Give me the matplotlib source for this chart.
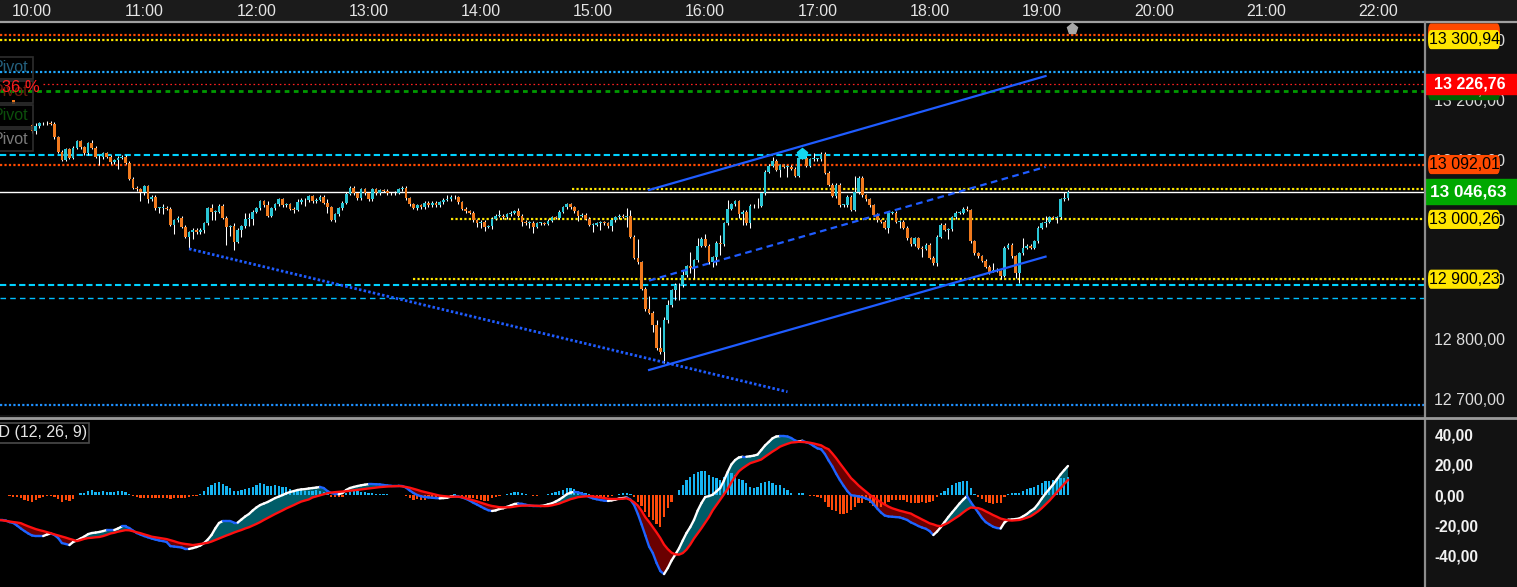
import numpy as np
import matplotlib
matplotlib.use("Agg")
import matplotlib.pyplot as plt
from matplotlib.collections import LineCollection
from matplotlib.patches import Rectangle, FancyBboxPatch
from matplotlib.lines import Line2D
from matplotlib.transforms import blended_transform_factory

plt.rcParams['font.family'] = ['Liberation Sans', 'DejaVu Sans']

# ------------------------------------------------------------------ data
session_start = "10:00"
bar_minutes = 2
time_labels = ["10:00", "11:00", "12:00", "13:00", "14:00", "15:00", "16:00",
               "17:00", "18:00", "19:00", "20:00", "21:00", "22:00"]
price_ticks = [12700, 12800, 12900, 13000, 13100, 13200, 13300]
macd_ticks = [40, 20, 0, -20, -40]

first_open = 13158
closes = [
    13148, 13156, 13161, 13161, 13162, 13160, 13138, 13113, 13100, 13118,
    13103, 13120, 13131, 13121, 13111, 13128, 13120, 13105, 13104, 13111,
    13105, 13096, 13099, 13103, 13105, 13095, 13068, 13053, 13051, 13046,
    13056, 13034, 13038, 13019, 13019, 13020, 13018, 12991, 12999, 13003,
    12988, 12971, 12979, 12983, 12979, 12983, 12994, 13019, 13013, 13013,
    13023, 13003, 12988, 12989, 12963, 12983, 12989, 13001, 13001, 13013,
    13019, 13031, 13024, 13006, 13019, 13026, 13034, 13024, 13026, 13018,
    13016, 13029, 13033, 13032, 13039, 13031, 13033, 13038, 13028, 13021,
    12999, 13009, 13019, 13028, 13043, 13053, 13044, 13036, 13051, 13044,
    13034, 13051, 13044, 13049, 13048, 13044, 13044, 13045, 13051, 13053,
    13036, 13026, 13019, 13024, 13021, 13028, 13024, 13028, 13024, 13029,
    13033, 13034, 13038, 13037, 13029, 13018, 13014, 13011, 12999, 12994,
    12996, 12988, 12989, 13001, 13006, 13006, 13004, 13009, 13011, 13014,
    13006, 12996, 12994, 12995, 12988, 12994, 12994, 12993, 12998, 13004,
    13003, 13013, 13021, 13026, 13021, 13014, 13006, 13008, 13001, 12991,
    12991, 12994, 12995, 12994, 12989, 12999, 13004, 13006, 13005, 13006,
    12971, 12936, 12929, 12884, 12850, 12844, 12824, 12785, 12779, 12832,
    12857, 12882, 12891, 12890, 12907, 12922, 12919, 12932, 12956, 12968,
    12956, 12929, 12937, 12961, 12959, 12994, 13018, 13026, 13031, 13009,
    13013, 12994, 13023, 13022, 13023, 13044, 13080, 13090, 13098, 13083,
    13091, 13088, 13088, 13085, 13073, 13103, 13103, 13090, 13101, 13101,
    13101, 13110, 13078, 13058, 13039, 13058, 13024, 13024, 13038, 13016,
    13046, 13070, 13041, 13034, 13024, 13008, 12999, 12996, 12986, 13011,
    13011, 12996, 12996, 12986, 12969, 12959, 12969, 12953, 12951, 12958,
    12936, 12927, 12971, 12991, 12983, 12984, 13004, 13011, 13011, 13018,
    13016, 12964, 12944, 12939, 12931, 12921, 12912, 12916, 12914, 12906,
    12953, 12958, 12939, 12911, 12944, 12953, 12956, 12953, 12964, 12986,
    12994, 12996, 13004, 13003, 13004, 13034, 13036, 13046.63,
]
# bars whose high / low reach visibly beyond the body (bar number: price)
high_marks = {1: 13161, 16: 13133, 18: 13108, 35: 13026, 48: 13026, 54: 12994,
              57: 13011, 58: 13011, 63: 13031, 71: 13034, 79: 13034, 111: 13041,
              125: 13016, 130: 13019, 143: 13028, 159: 13019, 160: 13016,
              162: 12968, 165: 12872, 167: 12832, 168: 12820, 169: 12837,
              170: 12866, 174: 12916, 176: 12946, 178: 12969, 180: 12976,
              184: 12974, 186: 13033, 194: 13036, 196: 13083, 198: 13105,
              205: 13105, 209: 13111, 211: 13113, 220: 13073, 250: 13023,
              257: 12927, 265: 12969, 271: 13006, 276: 13046, 277: 13049}
low_marks = {1: 13143, 18: 13091, 23: 13085, 29: 13031, 30: 13041, 31: 13028,
             34: 13011, 35: 13009, 38: 12976, 42: 12953, 43: 12968, 46: 12978,
             48: 12999, 49: 12999, 52: 12958, 53: 12973, 54: 12949, 56: 12971,
             58: 12989, 59: 12991, 70: 13011, 73: 13023, 79: 13011, 80: 12998,
             91: 13031, 102: 13018, 119: 12988, 120: 12986, 121: 12981,
             123: 12984, 131: 12989, 133: 12986, 134: 12978, 146: 12998,
             150: 12979, 152: 12983, 155: 12981, 159: 12988, 166: 12812,
             168: 12775, 169: 12760, 170: 12827, 172: 12866, 173: 12866,
             176: 12911, 177: 12902, 182: 12921, 183: 12924, 184: 12941,
             189: 13003, 190: 12991, 191: 12991, 192: 12986, 200: 13071,
             202: 13071, 205: 13071, 214: 13038, 219: 13014, 229: 12978,
             232: 12986, 238: 12937, 241: 12924, 242: 12922, 245: 12968,
             257: 12912, 259: 12901, 263: 12902, 264: 12894, 271: 12988,
             274: 12994}
pre_bar_time = ["09:50"]
pre_bar_open = [13200]
pre_bar_close = [13193]

macd_start = "09:42"
macd_line = [
    -16.4, -16.4, -16.8, -17.8, -18.4, -20.1, -22.0, -23.7, -25.3,
    -26.6, -27.0, -27.0, -27.0, -26.0, -25.3, -26.3, -28.3, -31.6, -32.2,
    -32.9, -30.9, -29.9, -28.6, -27.3, -25.7, -25.0, -24.7, -24.3, -23.7,
    -23.0, -23.0, -23.0, -22.0, -20.7, -20.7, -21.7, -23.4, -25.0, -26.0,
    -27.0, -27.8, -28.6, -29.3, -29.9, -30.3, -30.9, -33.6, -33.9, -34.2,
    -34.5, -35.5, -35.5, -34.9, -34.2, -33.2, -31.6, -29.3, -26.3, -22.0,
    -18.4, -17.1, -17.1, -17.1, -18.1, -18.1, -16.1, -14.1, -12.5, -10.2,
    -8.2, -6.6, -5.6, -4.6, -3.3, -2.0, -1.0, 0.0, 1.1, 2.0,
    2.6, 3.3, 3.7, 3.9, 4.3, 4.6, 4.9, 5.3, 4.6, 2.6,
    1.3, 0.7, 0.5, 1.3, 3.3, 4.6, 5.3, 5.9, 6.4, 6.8,
    7.2, 7.2, 7.1, 7.0, 6.6, 6.3, 6.1, 6.1, 6.1, 5.9,
    4.9, 3.0, 1.3, 0.0, -0.8, -1.3, -1.6, -1.8, -2.0, -2.2,
    -2.0, -1.8, -1.0, -0.7, -1.0, -1.6, -2.5, -3.6, -5.1, -6.3,
    -7.6, -8.9, -10.0, -10.5, -10.1, -9.2, -8.7, -7.8, -6.9, -5.9,
    -5.6, -5.8, -6.4, -6.9, -7.2, -7.2, -7.2, -6.9, -6.1, -5.5,
    -4.3, -3.0, -1.3, 0.5, 1.6, 2.1, 1.8, 0.9, -0.2, -1.3,
    -2.2, -2.8, -3.3, -3.7, -3.9, -3.5, -3.0, -2.3, -2.0, -1.6,
    -3.0, -6.6, -12.5, -19.4, -26.6, -33.9, -38.2, -44.7, -50.0, -52.0,
    -48.0, -43.1, -39.2, -35.1, -29.9, -25.0, -21.1, -16.4, -10.2, -5.3,
    -1.3, -0.7, 0.2, 2.4, 4.6, 9.5, 15.1, 20.1, 23.0, 24.7,
    25.2, 25.2, 25.5, 25.9, 26.6, 29.6, 32.6, 34.9, 37.3, 38.5,
    38.8, 38.8, 38.5, 37.5, 35.9, 35.2, 35.7, 34.7, 33.9, 32.2,
    30.7, 30.1, 27.0, 22.7, 18.8, 14.1, 9.9, 6.1, 2.6, -0.1,
    -0.5, -0.9, -1.4, -2.3, -3.3, -5.9, -8.9, -11.5, -13.5, -14.1,
    -14.3, -14.5, -14.7, -15.5, -16.4, -18.0, -19.1, -20.4, -21.4, -22.2,
    -23.7, -26.3, -24.0, -21.1, -17.8, -14.5, -11.5, -8.6, -5.6, -3.0,
    -0.7, -4.6, -8.1, -11.5, -15.1, -17.8, -19.4, -20.9, -21.7, -22.0,
    -18.1, -16.3, -16.1, -15.8, -15.4, -14.0, -12.5, -10.5, -8.9, -5.9,
    -2.3, 1.0, 3.9, 6.9, 10.2, 13.5, 16.4, 19.1,
]
signal_line = [
    -16.4, -16.6, -17.0, -17.4, -17.8, -18.1, -18.5, -19.6, -20.6,
    -21.5, -22.4, -23.1, -23.7, -24.4, -25.1, -25.9, -26.6, -27.3, -28.0,
    -28.8, -29.5, -30.3, -29.6, -28.8, -28.3, -28.1, -27.8, -27.6, -27.0,
    -26.2, -25.3, -24.8, -24.1, -23.6, -23.1, -23.2, -23.8, -24.5, -25.1,
    -25.9, -26.6, -27.4, -27.8, -28.2, -28.6, -29.0, -29.7, -30.4, -31.2,
    -31.8, -32.2, -32.5, -32.9, -32.6, -32.2, -31.8, -31.4, -30.6, -29.6,
    -28.6, -27.6, -26.6, -25.7, -24.7, -23.8, -23.0, -22.0, -21.2, -20.1,
    -19.0, -17.8, -16.4, -15.1, -13.8, -12.5, -11.3, -10.1, -8.8, -7.7,
    -6.6, -5.4, -4.3, -3.6, -2.9, -1.6, -0.9, -0.2, 0.5, 1.2,
    1.6, 1.9, 2.1, 2.3, 2.5, 2.8, 3.1, 3.4, 3.7, 4.0,
    4.3, 4.6, 4.9, 5.2, 5.4, 5.6, 5.7, 5.8, 5.9, 5.7,
    5.3, 4.8, 4.1, 3.4, 2.6, 2.0, 1.4, 0.8, 0.2, -0.4,
    -0.7, -0.9, -1.1, -1.1, -1.1, -1.4, -2.1, -2.8, -3.5, -4.2,
    -5.0, -5.8, -6.6, -7.2, -7.6, -8.0, -8.1, -8.1, -8.0, -7.6,
    -7.2, -7.0, -7.0, -6.9, -7.0, -7.1, -7.2, -7.3, -7.2, -6.8,
    -6.2, -5.6, -4.6, -3.7, -2.7, -2.1, -1.4, -1.1, -0.9, -0.7,
    -0.9, -1.3, -1.6, -2.0, -2.4, -2.6, -2.6, -2.6, -2.4, -2.2,
    -3.2, -4.8, -7.0, -10.4, -14.6, -17.7, -21.1, -24.6, -28.3, -32.6,
    -35.6, -37.9, -39.0, -39.2, -38.2, -35.9, -32.6, -28.6, -25.2, -21.8,
    -18.1, -14.5, -10.1, -6.6, -3.1, 0.4, 3.9, 8.3, 12.2, 15.6,
    17.6, 19.3, 20.9, 21.7, 22.5, 23.4, 25.2, 26.9, 28.6, 30.1,
    31.8, 32.8, 33.7, 34.5, 34.7, 35.0, 34.9, 34.7, 34.4, 33.9,
    33.3, 32.7, 31.2, 30.1, 27.3, 24.3, 20.9, 17.7, 14.4, 11.1,
    8.8, 6.3, 4.2, 2.2, 0.1, -1.6, -3.2, -4.8, -6.2, -7.6,
    -8.7, -9.5, -10.3, -10.9, -11.6, -12.2, -13.6, -14.8, -16.1, -17.3,
    -18.6, -19.3, -20.2, -20.5, -19.4, -18.2, -16.6, -15.0, -13.4, -11.4,
    -9.6, -8.2, -8.4, -8.6, -9.4, -10.7, -11.9, -13.2, -14.3, -15.5,
    -16.1, -16.6, -16.8, -16.6, -16.4, -15.7, -14.9, -14.0, -12.4, -10.7,
    -8.6, -6.2, -3.8, -1.0, 1.8, 4.5, 7.3, 9.9,
]
histogram = [
    -0.2, -0.3, -0.3, -0.4, -1.1, -1.5, -2.2, -3.3, -3.9,
    -4.4, -3.3, -2.2, -1.1, -0.7, -0.4, -1.1, -2.6, -4.4, -3.3,
    -3.9, -2.6, 0.3, 1.1, 1.5, 2.6, 3.3, 1.8, 1.8, 2.6,
    2.2, 1.8, 2.2, 2.6, 2.6, 2.2, 0.4, -0.7, -1.1, -1.8,
    -1.8, -1.8, -2.2, -2.2, -1.8, -1.8, -2.2, -2.6, -2.2, -1.8,
    -1.8, -1.8, -1.1, -0.7, -0.4, 0.7, 2.6, 5.5, 6.6, 7.7,
    8.3, 7.2, 6.1, 4.8, 2.6, 2.6, 3.3, 3.9, 4.8, 5.5,
    6.6, 7.7, 7.2, 6.1, 6.1, 6.6, 6.1, 5.5, 5.5, 3.9,
    2.6, 3.3, 3.3, 2.6, 2.6, 2.6, 3.3, 2.6, 1.8, 0.4,
    -1.1, -1.5, -1.5, -1.1, 1.1, 2.2, 2.6, 2.6, 2.2, 1.8,
    1.1, 1.1, 0.7, 0.7, 0.7, 0.7, 0.3, 0.2, 0.0, 0.0,
    -0.4, -2.2, -3.3, -2.9, -3.3, -3.3, -1.5, -1.5, -1.1, -1.1,
    -0.7, 0.0, 0.3, 0.7, 0.0, -0.7, -1.5, -2.2, -2.2, -2.9,
    -3.3, -3.7, -3.7, -2.2, -1.1, -0.7, 0.0, 0.7, 1.1, 1.8,
    2.2, 1.1, 0.7, 0.0, -0.4, -0.4, 0.0, 0.3, 0.7, 1.5,
    2.2, 2.6, 3.3, 4.4, 4.4, 3.7, 2.9, 2.2, 1.5, 0.7,
    -0.7, -0.7, -1.1, -1.1, -1.1, -0.7, 0.0, 0.7, 1.1, 1.1,
    0.7, -1.1, -4.4, -7.2, -11.0, -14.3, -16.4, -19.1, -20.8, -14.3,
    -8.8, -4.4, 0.0, 3.3, 6.6, 9.9, 11.6, 13.8, 15.4, 16.0,
    16.0, 13.2, 11.6, 11.0, 9.9, 11.6, 15.4, 14.3, 13.2, 10.3,
    9.9, 7.7, 5.5, 4.4, 5.5, 7.7, 8.8, 9.4, 8.1, 6.6,
    6.6, 4.4, 3.3, 1.5, 0.0, 1.1, 1.1, -0.2, -0.4, -0.7,
    -1.5, -2.2, -4.4, -7.7, -9.9, -10.3, -12.5, -12.5, -11.6, -9.9,
    -8.1, -5.5, -5.0, -3.3, -5.5, -7.2, -8.1, -8.1, -6.6, -4.4,
    -3.3, -3.3, -3.3, -3.3, -4.4, -5.0, -5.0, -5.0, -4.4, -5.0,
    -4.4, -3.7, -1.5, 1.5, 2.9, 4.4, 6.6, 8.1, 8.8, 9.2,
    9.2, 4.4, 0.7, -1.1, -2.9, -4.4, -5.5, -5.9, -5.5, -5.0,
    -1.5, 0.7, 1.1, 1.3, 1.5, 2.9, 3.7, 4.4, 5.0, 6.6,
    8.1, 9.4, 9.4, 10.0, 10.5, 11.0, 11.5, 11.8,
]

# horizontal levels: price, colour, style, start time (None = whole width)
level_prices = [13309.12, 13300.94, 13246.70, 13226.76, 13215.61, 13108.00,
                13092.01, 13051.50, 13000.26, 12900.23, 12890.60, 12869.00,
                12690.00]
level_colors = ['#ff4a00', '#ffe800', '#1ea8ff', '#ff2020', '#009a00', '#00d2ff',
                '#ff4a00', '#ffe800', '#ffe800', '#ffe800', '#00d2ff', '#00bfff',
                '#1e90ff']
level_styles = ['dot', 'dot', 'dot', 'fine', 'dash', 'cdash', 'dot', 'dot', 'dot',
                'dot', 'cdash', 'thin', 'dot']
level_starts = [None, None, None, "10:06", None, None, None, "14:49", "13:44",
                "13:24", None, None, None]

# price tags on the right axis
covered_tag = (13312.0, '#ff4a00')          # only a sliver shows above the yellow tag
tag_prices = [13300.94, 13092.01, 13000.26, 12900.23]
tag_colors = ['#ffe600', '#ff4a00', '#ffe600', '#ffe600']
hidden_tag = (13215.61, '#006400')
red_tag = (13226.76, '#ff0000')
last_price = closes[-1]

# drawn trend lines (time, price)
channel_upper = [("15:30", 13049.5), ("19:02", 13240.0)]
channel_mid = [("15:30", 12898.0), ("19:02", 13088.0)]
channel_lower = [("15:30", 12748.5), ("19:02", 12938.0)]
support_line = [("11:24", 12951.0), ("16:44", 12712.0)]
alert_marker = ("16:52", 13110.0)
now_marker = "19:16"

# ------------------------------------------------------------------ helpers
W, H = 1517, 587
t0 = int(session_start[:2]) * 60 + int(session_start[3:])


def t2i(t):
    h, m = t.split(':')
    return (int(h) * 60 + int(m) - t0) / bar_minutes


def fmt_price(v):
    return f"{v:,.2f}".replace(',', ' ').replace('.', ',')


def fmt_macd(v):
    return f"{v:.2f}".replace('.', ',')


def fx(px):
    return px / W


def fy(py):
    return 1 - py / H


BG_RIGHT = '#121212'
fig = plt.figure(figsize=(W / 100, H / 100), dpi=100, facecolor=BG_RIGHT)

ax_top = fig.add_axes([0, fy(22), 1, 22 / H])
ax = fig.add_axes([0, fy(415), 1424 / W, (415 - 23) / H])
axm = fig.add_axes([0, 0, 1424 / W, (587 - 420) / H])

XL = (-32 / 3.74, 1392 / 3.74)
for a in (ax, axm):
    a.set_facecolor('black')
    a.set_xlim(*XL)
    for s in a.spines.values():
        s.set_visible(False)
    a.tick_params(axis='x', bottom=False, labelbottom=False)

ax_top.set_xlim(XL[0], XL[0] + (XL[1] - XL[0]) * W / 1424)
ax_top.set_ylim(0, 1)
ax_top.axis('off')
ax_top.add_patch(Rectangle((0, 0), 1, 1, transform=ax_top.transAxes,
                           color='#1b1b1b', zorder=0))
for lab in time_labels:
    ax_top.text(t2i(lab), 0.5, lab, ha='center', va='center', color='#e4e4e4',
                fontsize=11.5)

# ------------------------------------------------------------------ main chart
ax.set_ylim(12673.2, 13328.7)
ax.yaxis.tick_right()
ax.set_yticks(price_ticks)
ax.set_yticklabels([fmt_price(v) for v in price_ticks])
ax.tick_params(axis='y', length=0, pad=7.5, labelsize=11.5, labelcolor='#dcdcdc')

style_map = {
    'dot': dict(lw=1.6, ls=(0, (1, 1))),
    'fine': dict(lw=0.9, ls=(0, (1.3, 2.2))),
    'dash': dict(lw=2.0, ls=(0, (1.7, 1.6))),
    'cdash': dict(lw=1.5, ls=(0, (3.0, 1.6))),
    'thin': dict(lw=1.0, ls=(0, (4.0, 3.0))),
}
for p, c, st, start in zip(level_prices, level_colors, level_styles, level_starts):
    x0 = XL[0] if start is None else t2i(start)
    ax.plot([x0, XL[1]], [p, p], color=c, zorder=2, solid_capstyle='butt',
            dash_capstyle='butt', **style_map[st])
ax.axhline(last_price, color='white', lw=1.0, zorder=2)

# candles
n = len(closes)
idx = np.arange(n)
c_arr = np.array(closes, dtype=float)
o_arr = np.r_[first_open, c_arr[:-1]]
WICK = 2.5
hi = np.maximum(o_arr, c_arr) + WICK
lo = np.minimum(o_arr, c_arr) - WICK
for k, v in high_marks.items():
    hi[k] = v
for k, v in low_marks.items():
    lo[k] = v
up = c_arr >= o_arr
ax.vlines(idx, lo, hi, color='white', lw=0.75, zorder=3)
body_bottom = np.minimum(o_arr, c_arr)
body_h = np.maximum(np.abs(c_arr - o_arr), 1.2)
ax.bar(idx[up], body_h[up], bottom=body_bottom[up], width=0.72,
       color='#2ac6d6', zorder=4, linewidth=0)
ax.bar(idx[~up], body_h[~up], bottom=body_bottom[~up], width=0.72,
       color='#f07a1e', zorder=4, linewidth=0)
for t, o, c in zip(pre_bar_time, pre_bar_open, pre_bar_close):
    ax.bar([t2i(t)], [abs(o - c)], bottom=[min(o, c)], width=0.72,
           color='#f07a1e' if c < o else '#2ac6d6', zorder=4, linewidth=0)


def tline(pts, **kw):
    ax.plot([t2i(pts[0][0]), t2i(pts[1][0])], [pts[0][1], pts[1][1]], zorder=5, **kw)


tline(channel_upper, color='#1f5cff', lw=1.6)
tline(channel_lower, color='#1f5cff', lw=1.6)
tline(channel_mid, color='#1f5cff', lw=1.6, ls=(0, (3.0, 2.0)))
tline(support_line, color='#1f5cff', lw=2.0, ls=(0, (0.9, 0.8)))

ax.plot([t2i(alert_marker[0])], [alert_marker[1]], marker='p', ms=8,
        color='#14d8f0', zorder=6)
ax.plot([t2i(now_marker)], [0.985], marker='p', ms=8, color='#a8a8a8',
        transform=blended_transform_factory(ax.transData, ax.transAxes),
        clip_on=False, zorder=6)

# ------------------------------------------------------------------ price tags
bt = blended_transform_factory(fig.transFigure, ax.transData)
TAG_H = 32.0   # price units (~19 px)
fig.add_artist(FancyBboxPatch((fx(1428), covered_tag[0] - TAG_H / 2), fx(1500) - fx(1428), TAG_H,
                              boxstyle='round,pad=0,rounding_size=0.002', transform=bt,
                              fc=covered_tag[1], ec='none', zorder=9, mutation_aspect=8000))
for p, col in zip(tag_prices, tag_colors):
    fig.add_artist(FancyBboxPatch((fx(1428), p - TAG_H / 2), fx(1500) - fx(1428), TAG_H,
                                  boxstyle='round,pad=0,rounding_size=0.002', transform=bt,
                                  fc=col, ec='none', zorder=10, mutation_aspect=8000))
    fig.text(fx(1429), p, fmt_price(p), transform=bt, ha='left', va='center',
             fontsize=11.5, color='black', zorder=10.5)
fig.add_artist(FancyBboxPatch((fx(1428), hidden_tag[0] - TAG_H / 2), fx(1500) - fx(1428), TAG_H,
                              boxstyle='round,pad=0,rounding_size=0.002', transform=bt,
                              fc=hidden_tag[1], ec='none', zorder=10, mutation_aspect=8000))
fig.text(fx(1429), hidden_tag[0], fmt_price(hidden_tag[0]), transform=bt,
         ha='left', va='center', fontsize=11.5, color='#d0d0d0', zorder=10.5)
fig.add_artist(Rectangle((fx(1425), red_tag[0] - 17.0), 1 - fx(1425), 34.0,
                         transform=bt, color=red_tag[1], zorder=11))
fig.text(fx(1434), red_tag[0], fmt_price(red_tag[0]), transform=bt, ha='left',
         va='center', fontsize=11.5, fontweight='bold', color='white', zorder=12)
fig.add_artist(Rectangle((fx(1425), last_price - 20.5), 1 - fx(1425), 41.0,
                         transform=bt, color='#00a800', zorder=11))
fig.text(fx(1430), last_price, fmt_price(last_price), transform=bt, ha='left',
         va='center', fontsize=12.3, fontweight='bold', color='white', zorder=12)

# left labels
pivot_boxes = [(57, 79, '#24607e'), (81, 103, '#6a1e0e'), (105, 127, '#0c4f0c'),
               (129, 151, '#7a7a7a')]
for y0, y1, col in pivot_boxes:
    fig.add_artist(Rectangle((fx(-3), fy(y1)), fx(36), y1 / H - y0 / H,
                             transform=fig.transFigure, fill=False, ec='#2e2e2e',
                             lw=1.2, zorder=8))
    fig.text(fx(28), fy((y0 + y1) / 2), 'Pivot', ha='right', va='center',
             fontsize=11.5, color=col, zorder=9)
fig.text(fx(40), fy(87), '0,36 %', ha='right', va='center', fontsize=12,
         color='#ff1c1c', zorder=9)

# ------------------------------------------------------------------ MACD panel
axm.set_ylim(-60.5, 49.35)
axm.yaxis.tick_right()
axm.set_yticks(macd_ticks)
axm.set_yticklabels([fmt_macd(v) for v in macd_ticks])
axm.tick_params(axis='y', length=0, pad=7.5, labelsize=11.2, labelcolor='#f2f2f2')
for t in axm.get_yticklabels():
    t.set_fontweight('bold')

mi0 = t2i(macd_start)
mx = mi0 + np.arange(len(macd_line))
m = np.array(macd_line)
s = np.array(signal_line)
hv = np.array(histogram)
axm.fill_between(mx, m, s, where=m >= s, interpolate=True, color='#005c68',
                 lw=0, zorder=1)
axm.fill_between(mx, m, s, where=m < s, interpolate=True, color='#6a0000',
                 lw=0, zorder=1)
axm.bar(mx[hv >= 0], hv[hv >= 0], width=0.6, color='#16b4f2', zorder=2, lw=0)
axm.bar(mx[hv < 0], hv[hv < 0], width=0.6, color='#ff4a0a', zorder=2, lw=0)
segs = np.stack([np.column_stack([mx[:-1], m[:-1]]),
                 np.column_stack([mx[1:], m[1:]])], axis=1)
seg_cols = np.where(np.diff(m) > 0, '#ffffff', '#1e64ff')
axm.add_collection(LineCollection(segs, colors=seg_cols, linewidths=1.7,
                                  zorder=3, capstyle='round'))
axm.plot(mx, s, color='#ff1010', lw=1.7, zorder=4)

fig.add_artist(Rectangle((fx(-3), fy(443)), fx(92), 20 / H, transform=fig.transFigure,
                         fill=False, ec='#4a4a4a', lw=1.2, zorder=8))
fig.text(fx(87), fy(433), 'MACD (12, 26, 9)', ha='right', va='center',
         fontsize=11.5, color='#e4e4e4', zorder=9)

# ------------------------------------------------------------------ separators
fig.add_artist(Line2D([0, 1], [fy(21.5), fy(21.5)], color='#a0a0a0', lw=1.6, zorder=20))
fig.add_artist(Line2D([fx(1424.5), fx(1424.5)], [0, fy(22)], color='#8c8c8c', lw=1.6, zorder=20))
fig.add_artist(Line2D([0, 1], [fy(418), fy(418)], color='#9a9a9a', lw=2.0, zorder=20))

fig.savefig('out.png', dpi=100, facecolor=fig.get_facecolor())
